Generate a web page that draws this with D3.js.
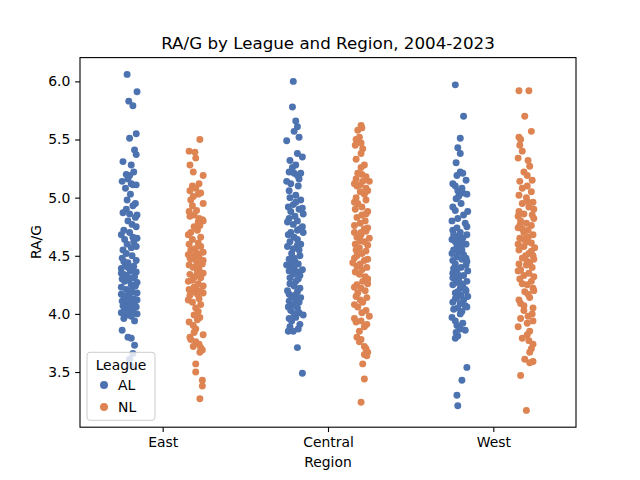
<!DOCTYPE html>
<html><head><meta charset="utf-8">
<script src="https://cdn.jsdelivr.net/npm/d3@7"></script>
<style>body{margin:0;background:#fff}svg{display:block}</style>
</head><body>
<script>
// ---- data (value, jitter fraction) ----
const categories = ["East", "Central", "West"];
const leagues = ["AL", "NL"];
const yTicks = [3.5, 4.0, 4.5, 5.0, 5.5, 6.0];
const titleText = "RA/G by League and Region, 2004-2023";

const AL_East = [[6.06,-0.3],[5.91,0.9],[5.83,-0.1],[5.79,0.4],[5.55,0.8],[5.51,0],[5.41,0.6],[5.37,0.8],[5.31,-0.8],[5.28,0.2],
[5.20,-0.4],[5.19,0],[5.14,-0.9],[5.12,0.2],[5.11,0.8],[5.11,0.4],[5.08,-0.5],[5.03,0.1],[4.98,-0.3],[4.93,0.4],
[4.87,-0.8],[4.85,0.9],[4.83,0.7],[4.80,-0.2],[4.77,0.3],[4.72,-0.7],[4.70,0],[4.66,0.4],[4.65,0.9],[4.64,-0.6],
[4.60,-0.3],[4.57,0.2],[4.55,-0.8],[4.50,0.3],[4.48,-0.9],[4.44,-0.2],[4.42,-0.5],[4.41,0.5],[4.39,-1],[4.37,0.1],
[4.36,0.8],[4.34,-0.7],[4.33,-0.3],[4.31,0.4],[4.30,-0.9],[4.29,-0.1],[4.27,0.9],[4.25,0.2],[4.24,0.7],[4.21,-0.4],
[4.19,0.3],[4.17,-1],[4.15,-0.7],[4.14,0],[4.13,0.5],[4.12,0.9],[4.11,-0.9],[4.10,-0.3],[4.09,0.2],[4.08,0.6],
[4.07,-0.8],[4.05,-0.1],[4.04,-0.6],[4.03,0.4],[4.01,-1],[4.00,0.9],[3.99,-0.3],[3.98,0.2],[3.96,-0.7],[3.94,0.6],
[3.86,-0.9],[3.80,-0.2],[3.79,0.2],[3.73,0.6],[3.66,0.4],[3.61,0],[3.55,0.2],[4.95,0.7],[4.90,-0.4],[4.75,0.8],
[4.68,-1],[4.62,0.5],[4.52,-0.4],[4.46,0.8],[4.40,-0.2],[4.35,-1],[4.28,-0.6],[4.23,-1],[4.18,0.9],[4.16,-0.2],
[4.12,-0.5],[4.06,0.8],[4.02,-0.2],[5.22,0.5],[5.16,-0.2],[4.86,0],[4.58,0.8],[4.45,-0.7],[4.32,0.6],[4.20,0.1]];

const NL_East = [[5.50,0.5],[5.40,-0.8],[5.39,-0.1],[5.34,0],[5.28,-0.7],[5.22,-0.3],[5.19,0.9],[5.10,-0.4],[5.08,0],[5.06,-0.7],
[5.03,0.3],[5.01,-0.3],[4.98,-0.6],[4.93,-0.4],[4.89,0.1],[4.84,-0.7],[4.82,0.4],[4.81,0.8],[4.80,0.9],[4.79,0.3],
[4.76,0.5],[4.70,-0.6],[4.68,-0.9],[4.64,-0.4],[4.61,0.3],[4.58,0.6],[4.56,-0.1],[4.53,0.9],[4.51,-0.9],[4.50,-0.2],
[4.49,0.4],[4.47,-0.6],[4.45,0.1],[4.43,0.8],[4.42,-0.8],[4.40,-0.3],[4.38,0.4],[4.36,0.2],[4.34,-0.7],[4.32,-0.1],
[4.31,0.6],[4.29,-0.4],[4.26,0.3],[4.24,0.9],[4.22,0],[4.21,-0.8],[4.20,0.6],[4.19,-0.2],[4.17,0.2],[4.16,-0.7],
[4.13,0.4],[4.10,-0.4],[4.05,0],[4.02,0.3],[3.99,-0.2],[3.97,0.5],[3.95,0.2],[3.90,-0.3],[3.87,0],[3.84,-0.2],
[3.80,-0.7],[3.78,-0.6],[3.76,0],[3.74,0.4],[3.71,0.6],[3.69,0.8],[3.67,0.5],[3.57,0],[3.50,0],[3.43,0.8],
[3.38,0.8],[3.27,0.5],[5.04,0.6],[4.95,0.9],[4.88,-0.8],[4.75,-0.2],[4.66,0.6],[4.60,-0.8],[4.55,-0.6],[4.46,0.9],
[4.41,0.2],[4.35,0.9],[4.28,-0.9],[4.23,-0.2],[4.18,0.9],[4.12,-0.9],[4.08,0.6],[3.93,-0.8],[3.82,0.9],[4.72,0.2],
[4.48,-0.7],[4.52,0.2],[5.12,0.4],[4.85,-0.2],[3.72,-0.3]];

const AL_Central = [[6.00,-0.2],[5.78,-0.3],[5.66,0.1],[5.61,0.3],[5.57,-0.1],[5.52,0.5],[5.49,-1],[5.38,0.3],[5.32,-0.6],[5.28,0.1],
[5.26,-0.3],[5.22,-0.7],[5.21,-0.1],[5.21,0.7],[5.19,0.3],[5.16,0.5],[5.12,-0.5],[5.10,0.4],[5.06,-0.7],[5.02,0.1],
[4.98,0.7],[4.94,-0.2],[4.92,-0.8],[4.90,0.5],[4.88,-0.5],[4.86,1],[4.84,0],[4.82,-0.7],[4.80,0.3],[4.77,-0.2],
[4.73,0.6],[4.72,0.3],[4.70,-0.5],[4.68,-0.8],[4.66,-0.1],[4.62,-0.6],[4.60,0.7],[4.59,0.3],[4.56,-0.2],[4.55,0.5],
[4.52,-0.4],[4.47,-0.7],[4.45,0],[4.43,0.4],[4.41,-0.5],[4.39,-0.1],[4.37,-0.7],[4.36,0.3],[4.34,-0.2],[4.33,0.6],
[4.31,-0.6],[4.28,0.1],[4.24,-0.1],[4.19,0.3],[4.17,-0.7],[4.15,-0.4],[4.14,0.7],[4.12,0.1],[4.10,0.5],[4.08,-0.2],
[4.06,-0.8],[4.05,0.3],[4.03,-0.5],[4.01,0.5],[3.99,1],[3.97,0.1],[3.94,-0.4],[3.91,0.6],[3.89,-0.6],[3.87,0.4],
[3.85,-0.8],[3.85,-0.2],[3.71,0.3],[3.49,0.9],[5.35,0.9],[5.14,-1],[5.00,-0.6],[4.96,0.1],[4.91,0.9],[4.79,-0.9],
[4.75,0.9],[4.64,0.3],[4.58,-0.9],[4.50,0.6],[4.48,-0.1],[4.42,-1],[4.38,0.9],[4.30,0.4],[4.26,-0.6],[4.22,0.6],
[4.20,-0.9],[4.16,0],[4.11,-0.7],[4.00,-0.1],[3.96,-0.7],[4.70,1],[4.44,-0.4]];

const NL_Central = [[5.62,0],[5.60,0.1],[5.58,-0.4],[5.50,-0.6],[5.47,0],[5.45,-0.7],[5.38,0],[5.33,-0.6],[5.28,0.4],[5.26,0],
[5.21,-0.4],[5.20,0.1],[5.18,0.6],[5.16,-0.6],[5.14,1],[5.14,0.2],[5.12,-0.8],[5.10,-0.5],[5.08,0.6],[5.05,-0.1],
[5.03,0.4],[5.00,-0.6],[4.98,0.6],[4.95,-0.4],[4.92,0.1],[4.90,-0.7],[4.88,0.8],[4.85,0.1],[4.80,0.5],[4.78,-0.1],
[4.74,0.8],[4.73,0.4],[4.70,-0.8],[4.68,0],[4.66,-0.5],[4.65,1],[4.62,0.4],[4.60,-0.7],[4.57,-0.2],[4.54,0.6],
[4.52,0.1],[4.50,-0.5],[4.48,-0.8],[4.46,0.4],[4.43,-0.1],[4.41,-0.5],[4.38,0.1],[4.36,-0.7],[4.32,0.5],[4.30,0.8],
[4.28,0.2],[4.25,-0.5],[4.22,0],[4.20,0.5],[4.18,-0.4],[4.15,-0.6],[4.12,-0.1],[4.10,0.2],[4.06,-0.4],[4.03,0.6],
[4.01,0.1],[3.98,1],[3.96,-0.8],[3.93,-0.6],[3.91,0.7],[3.89,0.4],[3.85,-0.2],[3.80,-0.5],[3.78,0],[3.76,-0.2],
[3.72,0.4],[3.70,0.6],[3.67,0.8],[3.65,0.4],[3.64,0.7],[3.57,0.2],[3.44,0.4],[3.24,0],[5.52,-0.2],[5.42,0.2],
[5.11,-0.1],[4.96,-0.8],[4.83,-0.5],[4.76,-0.8],[4.71,0.6],[4.63,-0.1],[4.59,0.8],[4.55,-0.6],[4.47,0.8],[4.40,0.7],
[4.34,-0.2],[4.26,0.8],[4.14,0.7],[4.08,-0.8],[3.94,0],[4.86,0.6],[4.44,-1],[4.23,-0.8],[4.70,0],[5.06,0.8]];

const AL_West = [[5.97,-0.6],[5.70,0.4],[5.51,0],[5.43,-0.3],[5.38,0],[5.30,-0.5],[5.22,0],[5.21,0.3],[5.19,-0.4],[5.12,-0.9],
[5.10,-0.6],[5.06,-0.3],[5.04,0.3],[5.03,0.8],[5.01,-0.2],[4.99,-0.5],[4.92,-0.9],[4.89,-0.6],[4.85,0.4],[4.78,0.6],
[4.75,0.8],[4.72,-0.9],[4.70,0],[4.66,-0.3],[4.65,0.3],[4.62,-0.6],[4.60,0.7],[4.57,0.1],[4.55,-0.8],[4.53,-0.2],
[4.51,0.4],[4.49,-0.4],[4.47,0.2],[4.45,0.8],[4.43,-0.6],[4.40,0.1],[4.38,-0.4],[4.35,-0.9],[4.33,0.4],[4.30,-0.2],
[4.27,-0.5],[4.24,0.3],[4.22,0],[4.20,0.7],[4.18,-0.6],[4.16,0.1],[4.14,-0.4],[4.12,0.4],[4.09,0],[4.07,0.6],
[4.05,-0.3],[4.04,-0.8],[4.02,0.2],[3.97,-1],[3.94,-0.6],[3.90,-0.4],[3.87,0],[3.84,-0.5],[3.81,-0.3],[3.79,-0.6],
[3.54,0.8],[3.43,0.2],[3.30,-0.4],[3.21,-0.3],[5.15,0.7],[4.95,0.1],[4.82,-0.3],[4.80,-1],[4.68,0.8],[4.64,-1],
[4.58,-0.4],[4.52,-1],[4.46,-0.9],[4.42,0.7],[4.37,0.9],[4.31,-0.9],[4.28,0.8],[4.25,-0.9],[4.19,-0.3],[4.15,0.9],
[4.10,-0.9],[4.06,0.8],[4.00,0],[3.92,0.3],[4.55,0.2],[4.48,0.7],[4.61,0.1],[4.39,-0.8],[4.26,0.1],[4.13,-0.6],
[5.08,0.2],[4.88,0.9],[4.74,-0.4],[4.68,-0.8],[4.34,-0.3],[4.21,0.6],[3.86,0.6]];

const NL_West = [[5.92,-0.9],[5.92,0.3],[5.70,-0.2],[5.57,0.6],[5.52,-0.9],[5.50,-0.7],[5.40,-0.5],[5.34,-1],[5.32,0.2],[5.27,0.4],
[5.22,-0.3],[5.19,0.1],[5.15,0.7],[5.10,0.1],[5.08,-0.5],[5.05,0.6],[5.02,-0.9],[4.97,0.1],[4.95,-0.5],[4.92,0.3],
[4.88,-0.9],[4.86,-0.3],[4.85,0.7],[4.82,0.9],[4.80,-0.7],[4.78,0],[4.76,0.6],[4.74,-1],[4.72,0.2],[4.70,-0.3],
[4.68,0.8],[4.65,-0.8],[4.62,0.1],[4.61,0.6],[4.58,-0.3],[4.57,1],[4.55,-0.9],[4.52,0.3],[4.50,0.8],[4.48,-0.5],
[4.45,0.1],[4.43,-0.9],[4.40,0.7],[4.38,-0.7],[4.35,0.3],[4.33,-0.3],[4.30,-0.8],[4.28,0.6],[4.25,0.1],[4.22,0.8],
[4.20,0.9],[4.17,0.2],[4.12,-0.9],[4.09,-0.7],[4.07,-0.3],[4.03,-0.3],[4.00,0.7],[3.96,-0.7],[3.92,0.1],[3.89,-1],
[3.85,0.4],[3.79,-0.5],[3.77,0.3],[3.74,0.8],[3.70,0.6],[3.67,0.4],[3.61,-0.2],[3.59,0.8],[3.58,0.4],[3.47,-0.7],
[3.17,0],[5.45,-0.8],[5.00,0],[4.90,0.9],[4.84,-1],[4.73,-0.5],[4.66,0.2],[4.60,-1],[4.54,0.6],[4.47,0.9],
[4.42,0],[4.37,-1],[4.32,0.9],[4.26,-0.5],[4.19,-0.2],[4.14,0.4],[4.05,0.8],[3.98,0.2],[3.94,0.8],[4.76,-0.8],
[4.64,-0.3],[4.50,-0.1],[4.44,0.4],[3.82,0.1],[5.14,-0.8],[4.96,0.8]];

const groups = [
  {cat: 0, lg: 0, data: AL_East}, {cat: 0, lg: 1, data: NL_East},
  {cat: 1, lg: 0, data: AL_Central}, {cat: 1, lg: 1, data: NL_Central},
  {cat: 2, lg: 0, data: AL_West}, {cat: 2, lg: 1, data: NL_West}
];

// ---- layout ----
const W = 640, H = 480;
const L = 80, R = 576, T = 57.6, B = 427.2;
const colors = ["#4c72b0", "#dd8452"];
const font = "'DejaVu Sans', sans-serif";

const svg = d3.select("body").append("svg")
  .attr("width", W).attr("height", H)
  .style("font-family", font);

const allVals = groups.flatMap(g => g.data.map(d => d[0]));
const [mn, mx] = d3.extent(allVals);
const pad = (mx - mn) * 0.05;

const x = d3.scaleLinear().domain([-0.5, 2.5]).range([L, R]);
const y = d3.scaleLinear().domain([mn - pad, mx + pad]).range([B, T]);

const dodge = [-0.2, 0.2];
const jlim = 0.05;

// points
groups.forEach(g => {
  svg.append("g").selectAll("circle").data(g.data).join("circle")
    .attr("cx", d => x(g.cat + dodge[g.lg] + d[1] * jlim))
    .attr("cy", d => y(d[0]))
    .attr("r", 3.47)
    .attr("fill", colors[g.lg]);
});

// axes
const xAxis = svg.append("g").attr("transform", `translate(0,${B})`)
  .call(d3.axisBottom(x).tickValues([0, 1, 2]).tickFormat(i => categories[i])
    .tickSize(4.86).tickPadding(4.86));
const yAxis = svg.append("g").attr("transform", `translate(${L},0)`)
  .call(d3.axisLeft(y).tickValues(yTicks).tickFormat(d3.format(".1f"))
    .tickSize(4.86).tickPadding(4.86));
[xAxis, yAxis].forEach(a => {
  a.select(".domain").remove();
  a.selectAll("line").attr("stroke", "#000").attr("stroke-width", 1.1);
  a.selectAll("text").attr("fill", "#000").style("font-size", "13.9px").style("font-family", font);
});

// frame
svg.append("rect").attr("x", L).attr("y", T).attr("width", R - L).attr("height", B - T)
  .attr("fill", "none").attr("stroke", "#000").attr("stroke-width", 1.1);

// title & labels
svg.append("text").attr("x", (L + R) / 2).attr("y", 49.3).attr("text-anchor", "middle")
  .style("font-size", "16.7px").text(titleText);
svg.append("text").attr("x", (L + R) / 2).attr("y", 467).attr("text-anchor", "middle")
  .style("font-size", "13.9px").text("Region");
svg.append("text").attr("transform", "translate(41,242) rotate(-90)").attr("text-anchor", "middle")
  .style("font-size", "13.9px").text("RA/G");

// legend
const lg = svg.append("g");
lg.append("rect").attr("x", 87).attr("y", 352.3).attr("width", 68).attr("height", 68).attr("rx", 3)
  .attr("fill", "#fff").attr("fill-opacity", 0.8).attr("stroke", "#cccccc").attr("stroke-width", 1);
lg.append("text").attr("x", 121).attr("y", 370).attr("text-anchor", "middle")
  .style("font-size", "13.9px").text("League");
leagues.forEach((l, i) => {
  lg.append("circle").attr("cx", 104).attr("cy", 385 + i * 22).attr("r", 4).attr("fill", colors[i]);
  lg.append("text").attr("x", 118).attr("y", 390 + i * 22).style("font-size", "13.9px").text(l);
});
</script>
</body></html>
